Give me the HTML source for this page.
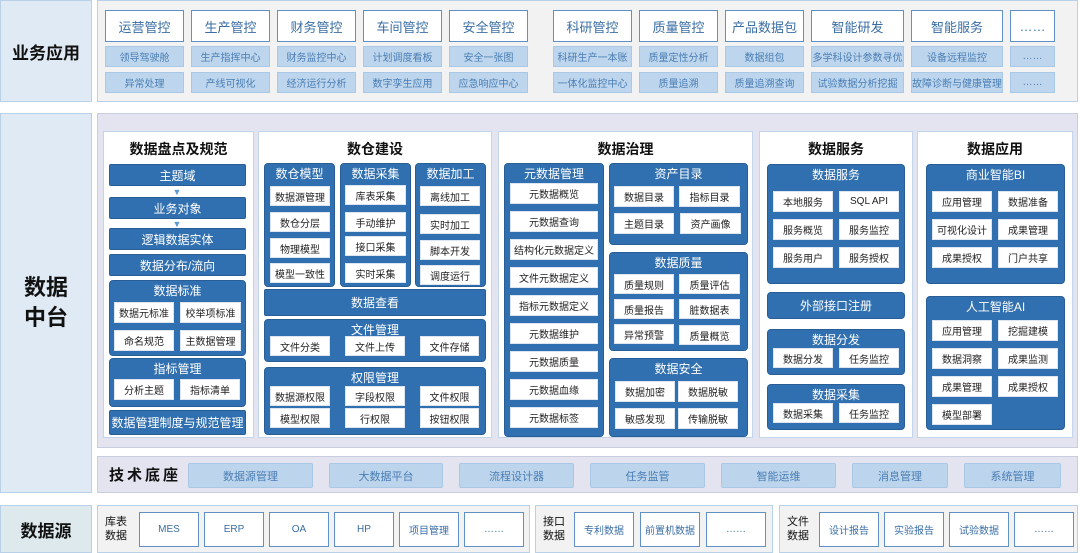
<!DOCTYPE html>
<html><head><meta charset="utf-8"><style>
*{margin:0;padding:0;box-sizing:border-box}
body{width:1080px;height:553px;background:#fff;position:relative;overflow:hidden;font-family:"Liberation Sans","Noto Sans CJK SC",sans-serif}
div{position:absolute;display:flex;align-items:center;justify-content:center;text-align:center;white-space:nowrap}
.lab{background:#e0eaf4;border:1px solid #b9d1e8;font-weight:bold;color:#111;font-size:17px}
.pan{background:#f2f2f2;border:1px solid #b9d1e8}
.hd{background:#fff;border:1.5px solid #5f91c6;color:#3a6ea5;font-size:13px}
.lt{background:#bdd6ed;border:1px solid #a9c8e6;color:#4a7db4;font-size:10px}
.col{background:#fff;border:1px solid #c3d5ea;align-items:flex-start;font-weight:bold;font-size:14px;color:#111;padding-top:7px}
.g{background:#3170b0;border:1px solid #285d96;border-radius:4px;color:#fff;font-size:12px;align-items:flex-start;padding-top:1px}
.b{background:#3170b0;border:1px solid #285d96;border-radius:2px;color:#fff;font-size:12px}
.w{background:#fff;color:#222;font-size:10px;border:1px solid #dde6f0}
.tc{background:#bcd5ec;border:1px solid #a9c8e6;color:#4a7db4;font-size:11px;border-radius:2px}
.sw{background:#fff;border:1.5px solid #5f91c6;color:#3a6ea5;font-size:10px}
.sl{font-size:11px;color:#111;line-height:14px;white-space:normal;width:30px}
</style></head><body>
<!-- top -->
<div class="lab" style="left:0;top:0;width:92px;height:102px">业务应用</div>
<div class="pan" style="left:97px;top:0;width:981px;height:102px"></div>
<div class="hd" style="left:105px;top:10px;width:79px;height:32px">运营管控</div>
<div class="hd" style="left:191px;top:10px;width:79px;height:32px">生产管控</div>
<div class="hd" style="left:277px;top:10px;width:79px;height:32px">财务管控</div>
<div class="hd" style="left:363px;top:10px;width:79px;height:32px">车间管控</div>
<div class="hd" style="left:449px;top:10px;width:79px;height:32px">安全管控</div>
<div class="hd" style="left:553px;top:10px;width:79px;height:32px">科研管控</div>
<div class="hd" style="left:639px;top:10px;width:79px;height:32px">质量管控</div>
<div class="hd" style="left:725px;top:10px;width:79px;height:32px">产品数据包</div>
<div class="hd" style="left:811px;top:10px;width:93px;height:32px">智能研发</div>
<div class="hd" style="left:911px;top:10px;width:92px;height:32px">智能服务</div>
<div class="hd" style="left:1010px;top:10px;width:45px;height:32px">……</div>
<div class="lt" style="left:105px;top:46px;width:79px;height:21px">领导驾驶舱</div>
<div class="lt" style="left:191px;top:46px;width:79px;height:21px">生产指挥中心</div>
<div class="lt" style="left:277px;top:46px;width:79px;height:21px">财务监控中心</div>
<div class="lt" style="left:363px;top:46px;width:79px;height:21px">计划调度看板</div>
<div class="lt" style="left:449px;top:46px;width:79px;height:21px">安全一张图</div>
<div class="lt" style="left:553px;top:46px;width:79px;height:21px">科研生产一本账</div>
<div class="lt" style="left:639px;top:46px;width:79px;height:21px">质量定性分析</div>
<div class="lt" style="left:725px;top:46px;width:79px;height:21px">数据组包</div>
<div class="lt" style="left:811px;top:46px;width:93px;height:21px">多学科设计参数寻优</div>
<div class="lt" style="left:911px;top:46px;width:92px;height:21px">设备远程监控</div>
<div class="lt" style="left:1010px;top:46px;width:45px;height:21px">……</div>
<div class="lt" style="left:105px;top:72px;width:79px;height:21px">异常处理</div>
<div class="lt" style="left:191px;top:72px;width:79px;height:21px">产线可视化</div>
<div class="lt" style="left:277px;top:72px;width:79px;height:21px">经济运行分析</div>
<div class="lt" style="left:363px;top:72px;width:79px;height:21px">数字孪生应用</div>
<div class="lt" style="left:449px;top:72px;width:79px;height:21px">应急响应中心</div>
<div class="lt" style="left:553px;top:72px;width:79px;height:21px">一体化监控中心</div>
<div class="lt" style="left:639px;top:72px;width:79px;height:21px">质量追溯</div>
<div class="lt" style="left:725px;top:72px;width:79px;height:21px">质量追溯查询</div>
<div class="lt" style="left:811px;top:72px;width:93px;height:21px">试验数据分析挖掘</div>
<div class="lt" style="left:911px;top:72px;width:92px;height:21px">故障诊断与健康管理</div>
<div class="lt" style="left:1010px;top:72px;width:45px;height:21px">……</div>

<!-- middle -->
<div class="lab" style="left:0;top:113px;width:92px;height:380px;font-size:22px;line-height:30px;white-space:normal;padding:0 22px">数据中台</div>
<div style="left:97px;top:113px;width:981px;height:335px;background:#e3e4ef;border:1px solid #c9cde0"></div>

<!-- col1 -->
<div class="col" style="left:103px;top:131px;width:151px;height:307px">数据盘点及规范</div>
<div class="b" style="left:109px;top:164px;width:137px;height:22px">主题域</div>
<div style="left:174px;top:187px;width:6px;height:9px;color:#5b9bd5;font-size:9px">▼</div>
<div class="b" style="left:109px;top:197px;width:137px;height:22px">业务对象</div>
<div style="left:174px;top:219px;width:6px;height:9px;color:#5b9bd5;font-size:9px">▼</div>
<div class="b" style="left:109px;top:228px;width:137px;height:22px">逻辑数据实体</div>
<div class="b" style="left:109px;top:254px;width:137px;height:22px">数据分布/流向</div>
<div class="g" style="left:109px;top:280px;width:137px;height:76px">数据标准</div>
<div class="w" style="left:114px;top:302px;width:60px;height:21px">数据元标准</div>
<div class="w" style="left:180px;top:302px;width:61px;height:21px">校举项标准</div>
<div class="w" style="left:114px;top:330px;width:60px;height:21px">命名规范</div>
<div class="w" style="left:180px;top:330px;width:61px;height:21px">主数据管理</div>
<div class="g" style="left:109px;top:358px;width:137px;height:49px">指标管理</div>
<div class="w" style="left:114px;top:379px;width:60px;height:21px">分析主题</div>
<div class="w" style="left:180px;top:379px;width:60px;height:21px">指标清单</div>
<div class="b" style="left:109px;top:410px;width:137px;height:25px">数据管理制度与规范管理</div>

<!-- col2 -->
<div class="col" style="left:258px;top:131px;width:234px;height:307px">数仓建设</div>
<div class="g" style="left:264px;top:163px;width:71px;height:124px">数仓模型</div>
<div class="w" style="left:270px;top:186px;width:60px;height:20px">数据源管理</div>
<div class="w" style="left:270px;top:212px;width:60px;height:20px">数仓分层</div>
<div class="w" style="left:270px;top:238px;width:60px;height:20px">物理模型</div>
<div class="w" style="left:270px;top:263px;width:60px;height:20px">模型一致性</div>
<div class="g" style="left:340px;top:163px;width:71px;height:124px">数据采集</div>
<div class="w" style="left:345px;top:185px;width:61px;height:20px">库表采集</div>
<div class="w" style="left:345px;top:212px;width:61px;height:20px">手动维护</div>
<div class="w" style="left:345px;top:236px;width:61px;height:20px">接口采集</div>
<div class="w" style="left:345px;top:263px;width:61px;height:20px">实时采集</div>
<div class="g" style="left:415px;top:163px;width:71px;height:124px">数据加工</div>
<div class="w" style="left:420px;top:186px;width:60px;height:20px">离线加工</div>
<div class="w" style="left:420px;top:214px;width:60px;height:20px">实时加工</div>
<div class="w" style="left:420px;top:240px;width:60px;height:20px">脚本开发</div>
<div class="w" style="left:420px;top:265px;width:60px;height:20px">调度运行</div>
<div class="b" style="left:264px;top:289px;width:222px;height:27px">数据查看</div>
<div class="g" style="left:264px;top:319px;width:222px;height:43px">文件管理</div>
<div class="w" style="left:270px;top:336px;width:60px;height:20px">文件分类</div>
<div class="w" style="left:345px;top:336px;width:60px;height:20px">文件上传</div>
<div class="w" style="left:420px;top:336px;width:59px;height:20px">文件存储</div>
<div class="g" style="left:264px;top:367px;width:222px;height:68px">权限管理</div>
<div class="w" style="left:270px;top:386px;width:60px;height:20px">数据源权限</div>
<div class="w" style="left:345px;top:386px;width:60px;height:20px">字段权限</div>
<div class="w" style="left:420px;top:386px;width:59px;height:20px">文件权限</div>
<div class="w" style="left:270px;top:408px;width:60px;height:20px">模型权限</div>
<div class="w" style="left:345px;top:408px;width:60px;height:20px">行权限</div>
<div class="w" style="left:420px;top:408px;width:59px;height:20px">按钮权限</div>

<!-- col3 -->
<div class="col" style="left:498px;top:131px;width:255px;height:307px">数据治理</div>
<div class="g" style="left:504px;top:163px;width:100px;height:274px">元数据管理</div>
<div class="w" style="left:510px;top:183px;width:88px;height:21px">元数据概览</div>
<div class="w" style="left:510px;top:211px;width:88px;height:21px">元数据查询</div>
<div class="w" style="left:510px;top:239px;width:88px;height:21px">结构化元数据定义</div>
<div class="w" style="left:510px;top:267px;width:88px;height:21px">文件元数据定义</div>
<div class="w" style="left:510px;top:295px;width:88px;height:21px">指标元数据定义</div>
<div class="w" style="left:510px;top:323px;width:88px;height:21px">元数据维护</div>
<div class="w" style="left:510px;top:351px;width:88px;height:21px">元数据质量</div>
<div class="w" style="left:510px;top:379px;width:88px;height:21px">元数据血缘</div>
<div class="w" style="left:510px;top:407px;width:88px;height:21px">元数据标签</div>
<div class="g" style="left:609px;top:163px;width:139px;height:82px">资产目录</div>
<div class="w" style="left:614px;top:186px;width:60px;height:21px">数据目录</div>
<div class="w" style="left:679px;top:186px;width:61px;height:21px">指标目录</div>
<div class="w" style="left:614px;top:213px;width:60px;height:21px">主题目录</div>
<div class="w" style="left:680px;top:213px;width:61px;height:21px">资产画像</div>
<div class="g" style="left:609px;top:252px;width:139px;height:99px">数据质量</div>
<div class="w" style="left:614px;top:274px;width:60px;height:20px">质量规则</div>
<div class="w" style="left:679px;top:274px;width:61px;height:20px">质量评估</div>
<div class="w" style="left:614px;top:299px;width:60px;height:20px">质量报告</div>
<div class="w" style="left:679px;top:299px;width:61px;height:20px">脏数据表</div>
<div class="w" style="left:614px;top:324px;width:60px;height:20px">异常预警</div>
<div class="w" style="left:679px;top:325px;width:61px;height:20px">质量概览</div>
<div class="g" style="left:609px;top:358px;width:139px;height:79px">数据安全</div>
<div class="w" style="left:615px;top:381px;width:60px;height:21px">数据加密</div>
<div class="w" style="left:678px;top:381px;width:60px;height:21px">数据脱敏</div>
<div class="w" style="left:615px;top:408px;width:60px;height:21px">敏感发现</div>
<div class="w" style="left:678px;top:408px;width:60px;height:21px">传输脱敏</div>

<!-- col4 -->
<div class="col" style="left:759px;top:131px;width:154px;height:307px">数据服务</div>
<div class="g" style="left:767px;top:164px;width:138px;height:120px">数据服务</div>
<div class="w" style="left:773px;top:191px;width:60px;height:21px">本地服务</div>
<div class="w" style="left:839px;top:191px;width:60px;height:21px">SQL API</div>
<div class="w" style="left:773px;top:219px;width:60px;height:21px">服务概览</div>
<div class="w" style="left:839px;top:219px;width:60px;height:21px">服务监控</div>
<div class="w" style="left:773px;top:247px;width:60px;height:21px">服务用户</div>
<div class="w" style="left:839px;top:247px;width:60px;height:21px">服务授权</div>
<div class="b" style="left:767px;top:292px;width:138px;height:27px;border-radius:4px">外部接口注册</div>
<div class="g" style="left:767px;top:329px;width:138px;height:46px">数据分发</div>
<div class="w" style="left:773px;top:348px;width:60px;height:20px">数据分发</div>
<div class="w" style="left:839px;top:348px;width:60px;height:20px">任务监控</div>
<div class="g" style="left:767px;top:384px;width:138px;height:46px">数据采集</div>
<div class="w" style="left:773px;top:403px;width:60px;height:20px">数据采集</div>
<div class="w" style="left:839px;top:403px;width:60px;height:20px">任务监控</div>

<!-- col5 -->
<div class="col" style="left:917px;top:131px;width:156px;height:307px">数据应用</div>
<div class="g" style="left:926px;top:164px;width:139px;height:120px">商业智能BI</div>
<div class="w" style="left:932px;top:191px;width:60px;height:21px">应用管理</div>
<div class="w" style="left:998px;top:191px;width:60px;height:21px">数据准备</div>
<div class="w" style="left:932px;top:219px;width:60px;height:21px">可视化设计</div>
<div class="w" style="left:998px;top:219px;width:60px;height:21px">成果管理</div>
<div class="w" style="left:932px;top:247px;width:60px;height:21px">成果授权</div>
<div class="w" style="left:998px;top:247px;width:60px;height:21px">门户共享</div>
<div class="g" style="left:926px;top:296px;width:139px;height:134px">人工智能AI</div>
<div class="w" style="left:932px;top:320px;width:60px;height:21px">应用管理</div>
<div class="w" style="left:998px;top:320px;width:60px;height:21px">挖掘建模</div>
<div class="w" style="left:932px;top:348px;width:60px;height:21px">数据洞察</div>
<div class="w" style="left:998px;top:348px;width:60px;height:21px">成果监测</div>
<div class="w" style="left:932px;top:376px;width:60px;height:21px">成果管理</div>
<div class="w" style="left:998px;top:376px;width:60px;height:21px">成果授权</div>
<div class="w" style="left:932px;top:404px;width:60px;height:21px">模型部署</div>

<!-- tech -->
<div style="left:97px;top:456px;width:981px;height:37px;background:#e3e4ef;border:1px solid #c9cde0"></div>
<div style="left:104px;top:456px;width:82px;height:37px;font-size:15px;font-weight:bold;letter-spacing:3px;color:#111">技术底座</div>
<div class="tc" style="left:188px;top:463px;width:125px;height:25px">数据源管理</div>
<div class="tc" style="left:329px;top:463px;width:114px;height:25px">大数据平台</div>
<div class="tc" style="left:459px;top:463px;width:115px;height:25px">流程设计器</div>
<div class="tc" style="left:590px;top:463px;width:115px;height:25px">任务监管</div>
<div class="tc" style="left:721px;top:463px;width:115px;height:25px">智能运维</div>
<div class="tc" style="left:852px;top:463px;width:96px;height:25px">消息管理</div>
<div class="tc" style="left:964px;top:463px;width:97px;height:25px">系统管理</div>

<!-- bottom -->
<div class="lab" style="left:0;top:505px;width:92px;height:48px;background:#dde9ec">数据源</div>
<div class="pan" style="left:97px;top:505px;width:433px;height:48px"></div>
<div class="sl" style="left:101px;top:512px;height:34px">库表数据</div>
<div class="sw" style="left:139px;top:512px;width:60px;height:35px">MES</div>
<div class="sw" style="left:204px;top:512px;width:60px;height:35px">ERP</div>
<div class="sw" style="left:269px;top:512px;width:60px;height:35px">OA</div>
<div class="sw" style="left:334px;top:512px;width:60px;height:35px">HP</div>
<div class="sw" style="left:399px;top:512px;width:60px;height:35px">项目管理</div>
<div class="sw" style="left:464px;top:512px;width:60px;height:35px">……</div>
<div class="pan" style="left:535px;top:505px;width:238px;height:48px"></div>
<div class="sl" style="left:539px;top:512px;height:34px">接口数据</div>
<div class="sw" style="left:574px;top:512px;width:60px;height:35px">专利数据</div>
<div class="sw" style="left:640px;top:512px;width:60px;height:35px">前置机数据</div>
<div class="sw" style="left:706px;top:512px;width:60px;height:35px">……</div>
<div class="pan" style="left:779px;top:505px;width:299px;height:48px"></div>
<div class="sl" style="left:783px;top:512px;height:34px">文件数据</div>
<div class="sw" style="left:819px;top:512px;width:60px;height:35px">设计报告</div>
<div class="sw" style="left:884px;top:512px;width:60px;height:35px">实验报告</div>
<div class="sw" style="left:949px;top:512px;width:60px;height:35px">试验数据</div>
<div class="sw" style="left:1014px;top:512px;width:60px;height:35px">……</div>
</body></html>
